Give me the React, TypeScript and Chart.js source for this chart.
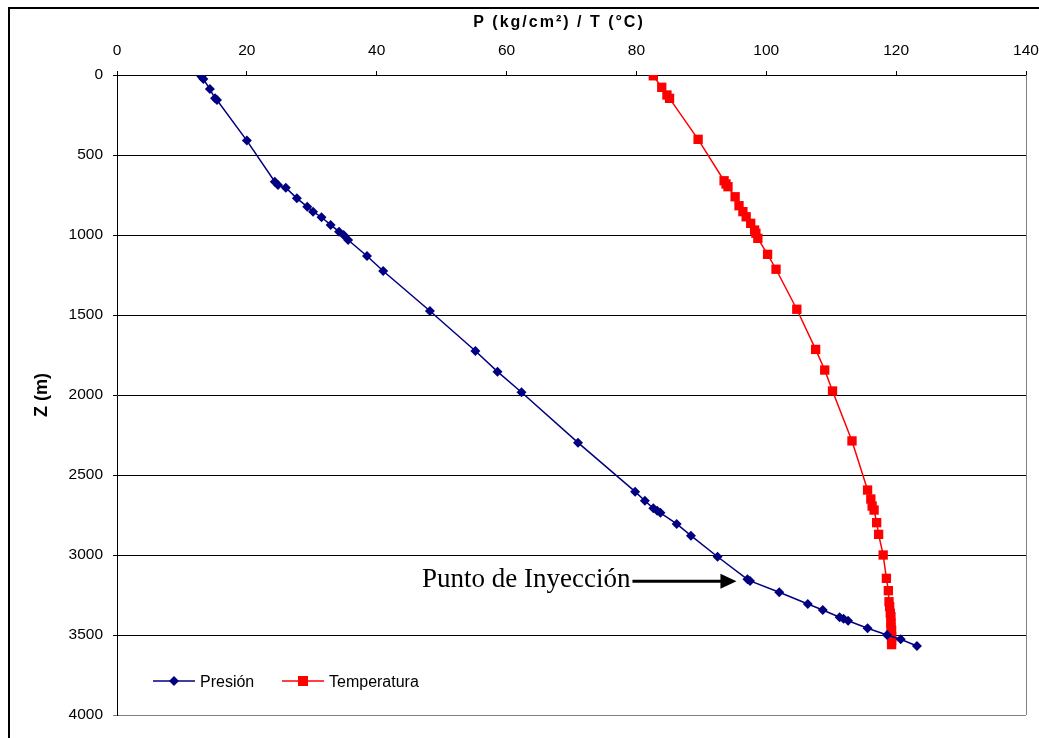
import React, { useEffect, useRef } from "react";
import { Chart, registerables } from "chart.js";

Chart.register(...registerables);

// Pressure profile (kg/cm2) vs depth Z (m)
const presionZ = [10, 25, 88, 146, 156, 410, 667, 687, 704, 771, 823, 854, 889, 937, 979, 1000, 1031, 1131, 1225, 1475, 1725, 1854, 1983, 2298, 2604, 2661, 2708, 2723, 2736, 2806, 2879, 3011, 3152, 3162, 3233, 3306, 3344, 3389, 3398, 3411, 3458, 3500, 3527, 3569];
const presionP = [13.0, 13.3, 14.3, 15.1, 15.4, 20.0, 24.3, 24.8, 26.0, 27.7, 29.3, 30.2, 31.5, 32.9, 34.2, 34.9, 35.6, 38.5, 41.0, 48.2, 55.2, 58.6, 62.3, 71.0, 79.8, 81.3, 82.6, 83.2, 83.7, 86.2, 88.4, 92.5, 97.1, 97.5, 102.0, 106.4, 108.7, 111.3, 111.9, 112.6, 115.6, 118.6, 120.7, 123.2];

// Temperature profile (°C) vs depth Z (m)
const tempZ = [5, 77, 125, 146, 402, 661, 681, 698, 761, 817, 854, 886, 927, 969, 989, 1021, 1121, 1214, 1464, 1715, 1844, 1975, 2287, 2594, 2650, 2694, 2719, 2798, 2871, 3000, 3146, 3223, 3292, 3323, 3364, 3386, 3425, 3448, 3470, 3511, 3535, 3560];
const tempT = [82.6, 83.9, 84.7, 85.1, 89.5, 93.5, 93.8, 94.1, 95.2, 95.8, 96.4, 96.9, 97.6, 98.2, 98.4, 98.7, 100.2, 101.5, 104.7, 107.6, 109.0, 110.2, 113.2, 115.6, 116.1, 116.3, 116.6, 117.0, 117.3, 118.0, 118.5, 118.8, 118.9, 119.0, 119.1, 119.2, 119.2, 119.2, 119.3, 119.3, 119.3, 119.3];

const seriesNames = ["Presión", "Temperatura"];
const xTitle = "P (kg/cm²) / T (°C)";
const yTitle = "Z (m)";
const annotationText = "Punto de Inyección";
const injectionIndex = 32; // index in presion arrays of the injection point

const X_MIN = 0, X_MAX = 140, X_STEP = 20;
const Y_MIN = 0, Y_MAX = 4000, Y_STEP = 500;

const SANS = "Arial, 'Liberation Sans', sans-serif";
const SERIF = "'Times New Roman', 'Liberation Serif', serif";
const NAVY = "#000080";
const RED = "#FF0000";

const decor = {
  id: "decor",
  beforeDraw(chart: any) {
    const ctx = chart.ctx;
    ctx.save();
    ctx.strokeStyle = "#000";
    ctx.lineWidth = 2;
    ctx.strokeRect(9, 8, 1200, 900);
    ctx.restore();
  },
  afterDraw(chart: any) {
    const ctx = chart.ctx;
    const { left, right, top, bottom } = chart.chartArea;
    const xs = chart.scales.x;
    const ys = chart.scales.y;
    ctx.save();
    // right border of plot area
    ctx.strokeStyle = "#808080";
    ctx.lineWidth = 1;
    ctx.beginPath();
    ctx.moveTo(Math.round(right) + 0.5, top);
    ctx.lineTo(Math.round(right) + 0.5, bottom);
    ctx.stroke();

    // x axis title (top)
    ctx.fillStyle = "#000";
    ctx.font = `bold 16px ${SANS}`;
    try { (ctx as any).letterSpacing = "2px"; } catch (e) {}
    ctx.textAlign = "center";
    ctx.textBaseline = "middle";
    ctx.fillText(xTitle, 559, 23);
    try { (ctx as any).letterSpacing = "0px"; } catch (e) {}

    // legend
    const ly = bottom - 34;
    const items = [
      { name: seriesNames[0], color: NAVY, shape: "diamond", x0: left + 36 },
      { name: seriesNames[1], color: RED, shape: "square", x0: left + 165 },
    ];
    ctx.font = `16px ${SANS}`;
    ctx.textAlign = "left";
    ctx.textBaseline = "alphabetic";
    items.forEach((it) => {
      ctx.strokeStyle = it.color;
      ctx.fillStyle = it.color;
      ctx.lineWidth = 1.5;
      ctx.beginPath();
      ctx.moveTo(it.x0, ly);
      ctx.lineTo(it.x0 + 42, ly);
      ctx.stroke();
      const cx = it.x0 + 21;
      ctx.beginPath();
      if (it.shape === "diamond") {
        ctx.moveTo(cx, ly - 5);
        ctx.lineTo(cx + 5, ly);
        ctx.lineTo(cx, ly + 5);
        ctx.lineTo(cx - 5, ly);
        ctx.closePath();
      } else {
        ctx.rect(cx - 5, ly - 5, 10, 10);
      }
      ctx.fill();
      ctx.fillStyle = "#000";
      ctx.fillText(it.name, it.x0 + 47, ly + 5.5);
    });

    // annotation: arrow to injection point
    const px = xs.getPixelForValue(presionP[injectionIndex]);
    const py = ys.getPixelForValue(presionZ[injectionIndex]);
    const tipX = px - 11;
    const tipY = py + 2;
    ctx.fillStyle = "#000";
    ctx.strokeStyle = "#000";
    ctx.lineWidth = 3;
    ctx.beginPath();
    ctx.moveTo(tipX - 104, tipY);
    ctx.lineTo(tipX - 14, tipY);
    ctx.stroke();
    ctx.beginPath();
    ctx.moveTo(tipX, tipY);
    ctx.lineTo(tipX - 16, tipY - 7.5);
    ctx.lineTo(tipX - 16, tipY + 7.5);
    ctx.closePath();
    ctx.fill();
    ctx.font = `27px ${SERIF}`;
    ctx.textAlign = "right";
    ctx.textBaseline = "alphabetic";
    ctx.fillText(annotationText, tipX - 106, tipY + 6);
    ctx.restore();
  },
};

export default function App() {
  const ref = useRef<HTMLCanvasElement | null>(null);
  useEffect(() => {
    if (!ref.current) return;
    const chart = new Chart(ref.current, {
      type: "scatter",
      data: {
        datasets: [
          {
            label: seriesNames[0],
            data: presionZ.map((z, i) => ({ x: presionP[i], y: z })),
            showLine: true,
            borderColor: NAVY,
            backgroundColor: NAVY,
            borderWidth: 1.5,
            pointStyle: "rectRot",
            pointRadius: 5,
            pointBorderWidth: 0,
            tension: 0,
          },
          {
            label: seriesNames[1],
            data: tempZ.map((z, i) => ({ x: tempT[i], y: z })),
            showLine: true,
            borderColor: RED,
            backgroundColor: RED,
            borderWidth: 1.5,
            pointStyle: "rect",
            pointRadius: 6.6,
            pointBorderWidth: 0,
            tension: 0,
          },
        ],
      },
      options: {
        responsive: false,
        animation: false,
        devicePixelRatio: 1,
        layout: { padding: { left: 0, top: 0, right: 13, bottom: 23 } },
        plugins: { legend: { display: false }, tooltip: { enabled: false } },
        scales: {
          x: {
            type: "linear",
            position: "top",
            min: X_MIN,
            max: X_MAX,
            ticks: {
              stepSize: X_STEP,
              color: "#000",
              font: { family: SANS, size: 15.5 },
              padding: 11,
              maxRotation: 0,
              callback: (v: any) => String(v),
            },
            grid: {
              drawOnChartArea: false,
              drawTicks: true,
              tickLength: 4,
              color: "#000",
            },
            border: { color: "#000", width: 1 },
            afterFit: (s: any) => {
              s.height = 75;
              s.paddingLeft = 0;
              s.paddingRight = 0;
            },
          },
          y: {
            type: "linear",
            reverse: true,
            min: Y_MIN,
            max: Y_MAX,
            ticks: {
              stepSize: Y_STEP,
              color: "#000",
              font: { family: SANS, size: 15.5 },
              padding: 10,
              callback: (v: any) => String(v),
            },
            grid: {
              color: (c: any) => (c.tick && c.tick.value === Y_MAX ? "#808080" : "#000"),
              tickLength: 4,
              lineWidth: 1,
            },
            border: { color: "#000", width: 1 },
            title: {
              display: true,
              text: yTitle,
              color: "#000",
              font: { family: SANS, size: 18, weight: "bold" },
              padding: { top: 31, bottom: 0 },
            },
            afterFit: (s: any) => {
              s.width = 117;
              s.paddingTop = 0;
              s.paddingBottom = 0;
            },
          },
        },
      },
      plugins: [decor],
    } as any);
    return () => chart.destroy();
  }, []);
  return (
    <div style={{ position: "absolute", left: 0, top: 0, width: 1039, height: 738, background: "#fff" }}>
      <canvas ref={ref} width={1039} height={738} style={{ display: "block" }} />
    </div>
  );
}
